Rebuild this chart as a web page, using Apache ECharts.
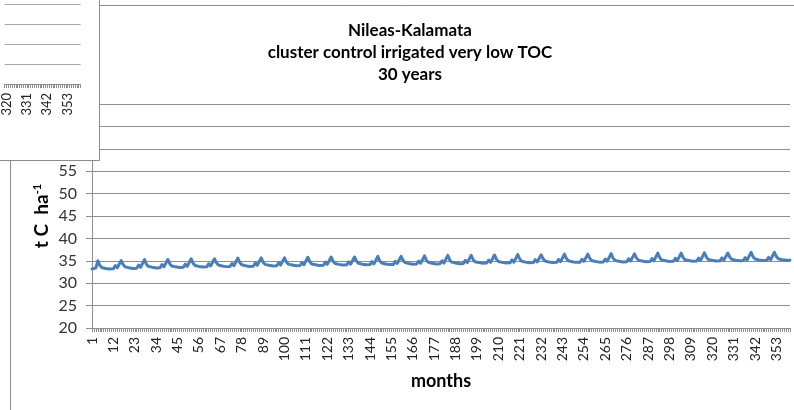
<!DOCTYPE html>
<html>
<head>
<meta charset="utf-8">
<script src="https://cdn.jsdelivr.net/npm/echarts@6/dist/echarts.min.js"></script>
<style>html,body{margin:0;padding:0;background:#fff}#c{width:794px;height:410px}</style>
</head>
<body>
<div id="c"></div>
<script>
// Monthly total organic carbon stock, t C ha-1 (one row per year, months 1..360)
var toc = [
33.2, 33.2, 33.4, 35.0, 34.0, 33.5, 33.35, 33.3, 33.3, 33.15, 32.95, 33.2,
33.95, 33.45, 33.55, 35.05, 34.15, 33.65, 33.5, 33.45, 33.45, 33.3, 33.1, 33.35,
34.05, 33.55, 33.65, 35.25, 34.25, 33.75, 33.6, 33.55, 33.55, 33.4, 33.2, 33.45,
34.15, 33.65, 33.75, 35.3, 34.35, 33.85, 33.7, 33.65, 33.65, 33.5, 33.3, 33.55,
34.25, 33.75, 33.85, 35.45, 34.45, 33.95, 33.8, 33.75, 33.75, 33.6, 33.4, 33.65,
34.35, 33.85, 33.95, 35.45, 34.55, 34.05, 33.9, 33.85, 33.85, 33.7, 33.5, 33.75,
34.4, 33.9, 34.0, 35.6, 34.6, 34.1, 33.95, 33.9, 33.9, 33.75, 33.55, 33.8,
34.5, 34.0, 34.1, 35.65, 34.7, 34.2, 34.05, 34.0, 34.0, 33.85, 33.65, 33.9,
34.55, 34.05, 34.15, 35.65, 34.75, 34.25, 34.1, 34.05, 34.05, 33.9, 33.7, 33.95,
34.6, 34.1, 34.2, 35.8, 34.8, 34.3, 34.15, 34.1, 34.1, 33.95, 33.75, 34.0,
34.7, 34.2, 34.3, 35.85, 34.9, 34.4, 34.25, 34.2, 34.2, 34.05, 33.85, 34.1,
34.75, 34.25, 34.35, 35.85, 34.95, 34.45, 34.3, 34.25, 34.25, 34.1, 33.9, 34.15,
34.8, 34.3, 34.4, 36.0, 35.0, 34.5, 34.35, 34.3, 34.3, 34.15, 33.95, 34.2,
34.9, 34.4, 34.5, 36.0, 35.1, 34.6, 34.45, 34.4, 34.4, 34.25, 34.05, 34.3,
34.95, 34.45, 34.55, 36.1, 35.15, 34.65, 34.5, 34.45, 34.45, 34.3, 34.1, 34.35,
35.0, 34.5, 34.6, 36.2, 35.2, 34.7, 34.55, 34.5, 34.5, 34.35, 34.15, 34.4,
35.1, 34.6, 34.7, 36.2, 35.3, 34.8, 34.65, 34.6, 34.6, 34.45, 34.25, 34.5,
35.15, 34.65, 34.75, 36.3, 35.35, 34.85, 34.7, 34.65, 34.65, 34.5, 34.3, 34.55,
35.2, 34.7, 34.8, 36.4, 35.4, 34.9, 34.75, 34.7, 34.7, 34.55, 34.35, 34.6,
35.25, 34.75, 34.85, 36.35, 35.45, 34.95, 34.8, 34.75, 34.75, 34.6, 34.4, 34.65,
35.3, 34.8, 34.9, 36.5, 35.5, 35.0, 34.85, 34.8, 34.8, 34.65, 34.45, 34.7,
35.35, 34.85, 34.95, 36.5, 35.55, 35.05, 34.9, 34.85, 34.85, 34.7, 34.5, 34.75,
35.4, 34.9, 35.0, 36.6, 35.6, 35.1, 34.95, 34.9, 34.9, 34.75, 34.55, 34.8,
35.45, 34.95, 35.05, 36.55, 35.65, 35.15, 35.0, 34.95, 34.95, 34.8, 34.6, 34.85,
35.5, 35.0, 35.1, 36.7, 35.7, 35.2, 35.05, 35.0, 35.0, 34.85, 34.65, 34.9,
35.55, 35.05, 35.15, 36.7, 35.75, 35.25, 35.1, 35.05, 35.05, 34.9, 34.7, 34.95,
35.6, 35.1, 35.2, 36.8, 35.8, 35.3, 35.15, 35.1, 35.1, 34.95, 34.75, 35.0,
35.65, 35.15, 35.25, 36.75, 35.85, 35.35, 35.2, 35.15, 35.15, 35.0, 34.8, 35.05,
35.7, 35.2, 35.3, 36.9, 35.9, 35.4, 35.25, 35.2, 35.2, 35.05, 34.85, 35.1,
35.75, 35.25, 35.35, 36.9, 35.95, 35.45, 35.3, 35.25, 35.25, 35.1, 34.9, 35.15
];
// category labels: month numbers 1..360
var months = [];
for (var i = 1; i <= toc.length; i++) months.push(String(i));
// the overlapping window in the top-left corner shows the tail of another chart's month axis
var fragmentMonths = months.slice(318);
var yTicks = {min: 20, max: 70, step: 5};
var titleLines = ['Nileas-Kalamata', 'cluster control irrigated very low TOC', '30 years'];

var FONT = 'Lato, "Liberation Sans", sans-serif';
var GRID = '#8e8e8e';
function every11(index, value) { return (Number(value) - 1) % 11 === 0; }

var chart = echarts.init(document.getElementById('c'), null, {renderer: 'canvas'});
chart.setOption({
  animation: false,
  backgroundColor: '#fff',
  title: {
    text: titleLines.join('\n'),
    left: 410,
    top: 20,
    padding: 0,
    textAlign: 'center',
    textStyle: {fontFamily: FONT, fontWeight: 'bold', fontSize: 17, lineHeight: 22, color: '#000'}
  },
  graphic: [
    {type: 'rect', silent: true, z: -10,
     shape: {x: 10.5, y: 5.5, width: 900, height: 700},
     style: {fill: 'none', stroke: '#8c8c8c', lineWidth: 1}},
    {type: 'rect', silent: true, z: 50,
     shape: {x: -1, y: -1, width: 100.5, height: 161.5},
     style: {fill: '#fff', stroke: '#8c8c8c', lineWidth: 1}}
  ],
  grid: [
    {left: 92, top: 104, width: 698, height: 224, containLabel: false},
    {left: 2.6, top: 4, width: 78, height: 80, containLabel: false}
  ],
  xAxis: [
    {
      type: 'category', gridIndex: 0, data: months, boundaryGap: false,
      name: 'months', nameLocation: 'middle', nameGap: 44, nameMoveOverlap: false,
      nameTextStyle: {fontFamily: FONT, fontWeight: 'bold', fontSize: 18, color: '#000'},
      axisLine: {lineStyle: {color: GRID, width: 1}},
      axisTick: {interval: 0, length: 4, lineStyle: {color: GRID}},
      axisLabel: {interval: 10, rotate: 90, margin: 9, fontFamily: FONT, fontSize: 14, color: '#222'},
      splitLine: {show: false}
    },
    {
      type: 'category', gridIndex: 1, data: fragmentMonths, boundaryGap: false, z: 60,
      axisLine: {lineStyle: {color: GRID, width: 1}},
      axisTick: {interval: 0, length: 4, lineStyle: {color: GRID}},
      axisLabel: {interval: every11, rotate: 90, margin: 9, fontFamily: FONT, fontSize: 13, color: '#222'},
      splitLine: {show: false}
    }
  ],
  yAxis: [
    {
      type: 'value', gridIndex: 0, min: yTicks.min, max: yTicks.max, interval: yTicks.step,
      name: '{a|t C  ha}{s|-1}', nameLocation: 'middle', nameGap: 40, nameRotate: 90,
      nameMoveOverlap: false,
      nameTextStyle: {
        rich: {
          a: {fontFamily: FONT, fontWeight: 'bold', fontSize: 19, color: '#000', lineHeight: 20},
          s: {fontFamily: FONT, fontWeight: 'bold', fontSize: 11, color: '#000', verticalAlign: 'top', lineHeight: 20, padding: [0, 0, 8, 0]}
        }
      },
      axisLine: {show: true, lineStyle: {color: GRID, width: 1}},
      axisTick: {show: true, length: 6, lineStyle: {color: GRID}},
      axisLabel: {margin: 15, fontFamily: FONT, fontSize: 16, color: '#333'},
      splitLine: {show: true, lineStyle: {color: GRID, width: 1}}
    },
    {
      type: 'value', gridIndex: 1, min: 0, max: 100, interval: 25, z: 60,
      axisLine: {show: false}, axisTick: {show: false}, axisLabel: {show: false},
      splitLine: {show: true, lineStyle: {color: '#a8a8a8', width: 1}}
    }
  ],
  series: [{
    type: 'line', xAxisIndex: 0, yAxisIndex: 0, data: toc,
    showSymbol: false, smooth: false,
    lineStyle: {color: '#4a7ebb', width: 3, cap: 'round', join: 'round'},
    itemStyle: {color: '#4a7ebb'}
  }]
});
</script>
</body>
</html>
